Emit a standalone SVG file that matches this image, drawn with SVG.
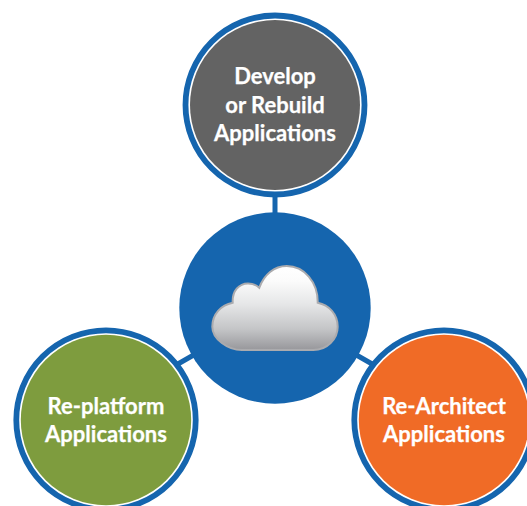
<svg xmlns="http://www.w3.org/2000/svg" width="527" height="506" viewBox="0 0 527 506">
<style>
.ring{stroke:#1565ae;stroke-width:5.8}
.disk{stroke:none}
.lbl{font-family:"Lato","Open Sans","Liberation Sans",sans-serif;font-weight:700;font-size:22px;fill:#fff;stroke:#fff;stroke-width:0.25;text-anchor:middle}
.conn{stroke:#1565ae;stroke-width:5;fill:none}
</style>
<defs>
<linearGradient id="cloudFill" x1="0" y1="0" x2="0" y2="1">
<stop offset="0" stop-color="#ffffff"/>
<stop offset="0.18" stop-color="#fbfbfb"/>
<stop offset="0.45" stop-color="#e6e7e8"/>
<stop offset="0.75" stop-color="#c4c5c7"/>
<stop offset="1" stop-color="#97979b"/>
</linearGradient>
</defs>
<rect width="527" height="506" fill="#fff"/>
<g id="connectors">
<line class="conn" x1="275" y1="190" x2="275" y2="225"/>
<line class="conn" x1="170" y1="368.5" x2="205" y2="348.5"/>
<line class="conn" x1="345" y1="348.5" x2="380" y2="368.5"/>
</g>
<g id="node-develop">
<circle class="ring" cx="275" cy="105" r="89.5" fill="#fff"/>
<circle class="disk" cx="275" cy="105" r="85" fill="#636363"/>
<text class="lbl" x="275" y="84">Develop</text>
<text class="lbl" x="275" y="113">or Rebuild</text>
<text class="lbl" x="275" y="141">Applications</text>
</g>
<g id="node-cloud">
<circle cx="275" cy="308" r="95.7" fill="#1565ae"/>
<path d="M241.7 350 H313.3 C327 350 337.7 339 337.7 326.7 C337.7 314 329 305 317.7 302.7 C318 282 304 266 286.7 266 C274 266 264 275 259.3 287.7 C256 284.5 252 283.5 248 283.5 C239 283.5 232 291 232.7 302.7 C221 305 212.3 314 212.3 326.7 C212.3 339 228 350 241.7 350 Z" fill="url(#cloudFill)" stroke="#ababae" stroke-width="2"/>
</g>
<g id="node-replatform">
<circle class="ring" cx="106" cy="420" r="89.7" fill="#fff"/>
<circle class="disk" cx="106" cy="420" r="85.2" fill="#7e9c3e"/>
<text class="lbl" x="106" y="414">Re-platform</text>
<text class="lbl" x="106" y="442">Applications</text>
</g>
<g id="node-rearchitect">
<circle class="ring" cx="444" cy="420" r="89.7" fill="#fff"/>
<circle class="disk" cx="444" cy="420" r="85.2" fill="#f06b26"/>
<text class="lbl" x="444" y="414">Re-Architect</text>
<text class="lbl" x="444" y="442">Applications</text>
</g>
</svg>
